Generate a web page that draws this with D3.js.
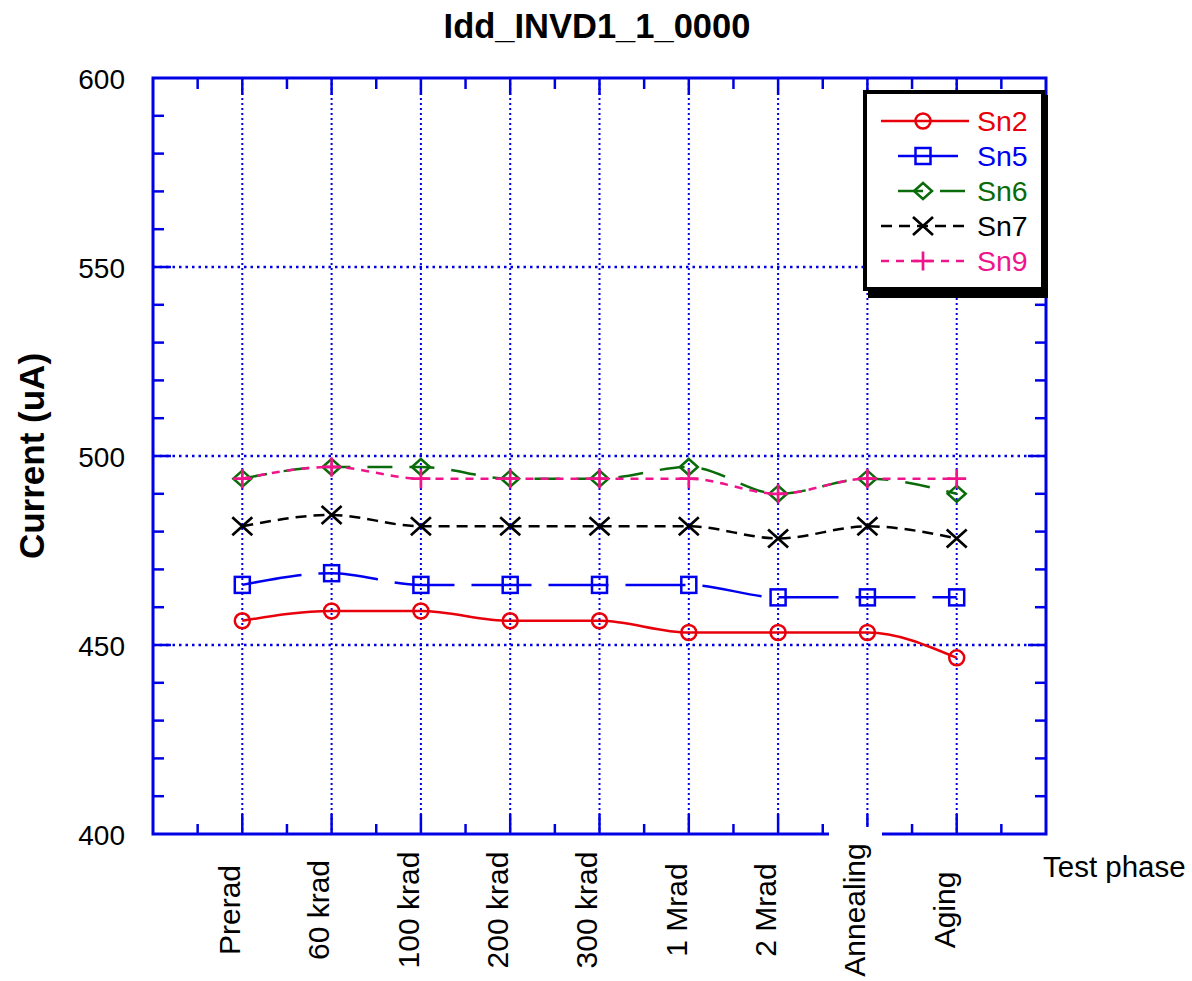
<!DOCTYPE html>
<html>
<head>
<meta charset="utf-8">
<script src="https://cdn.jsdelivr.net/npm/d3@7"></script>
<style>
  html, body { margin: 0; padding: 0; background: #fff; }
  svg { display: block; font-family: "Liberation Sans", Arial, Helvetica, sans-serif; }
</style>
</head>
<body>
<svg id="chart" width="1192" height="981"></svg>
<script>
// ---- data ----
const categories = ["Prerad", "60 krad", "100 krad", "200 krad", "300 krad", "1 Mrad", "2 Mrad", "Annealing", "Aging"];
const sn2 = [456.4, 459.0, 459.0, 456.4, 456.4, 453.3, 453.3, 453.3, 446.6];
const sn5 = [465.9, 469.0, 465.9, 465.9, 465.9, 465.9, 462.6, 462.6, 462.6];
const sn6 = [494.0, 497.1, 497.1, 494.0, 494.0, 497.1, 490.0, 494.0, 490.0];
const sn7 = [481.4, 484.4, 481.4, 481.4, 481.4, 481.4, 478.2, 481.4, 478.2];
const sn9 = [494.0, 497.1, 494.0, 494.0, 494.0, 494.0, 490.0, 494.0, 494.0];
const seriesNames = ["Sn2", "Sn5", "Sn6", "Sn7", "Sn9"];
const yTickValues = [400, 450, 500, 550, 600];
const yMinorStep = 10;

// ---- styles ----
const styles = {
  Sn2: { color: "#e8000b", dash: null, legendOffset: 0, marker: "circle" },
  Sn5: { color: "#0000f0", dash: "60,17", legendOffset: 60, marker: "square" },
  Sn6: { color: "#0a6b0a", dash: "25,17", legendOffset: 25, marker: "diamond" },
  Sn7: { color: "#000000", dash: "11,7", legendOffset: 0, marker: "x" },
  Sn9: { color: "#f0148c", dash: "8,7", legendOffset: 0, marker: "plus" }
};
const seriesData = { Sn2: sn2, Sn5: sn5, Sn6: sn6, Sn7: sn7, Sn9: sn9 };
const axisColor = "#0000e6";

const svg = d3.select("#chart");
const L = 153, R = 1046, T = 78, B = 834;

const x = d3.scaleLinear().domain([0, categories.length + 1]).range([L, R]);
const y = d3.scaleLinear().domain([400, 600]).range([B, T]);

// ---- title ----
svg.append("text").attr("x", 597).attr("y", 38).attr("text-anchor", "middle")
  .attr("font-size", 34.5).attr("font-weight", "bold").text("Idd_INVD1_1_0000");

// ---- grid (dotted) ----
const grid = svg.append("g").attr("stroke", axisColor).attr("fill", "none");
categories.forEach((c, i) => {
  grid.append("line").attr("x1", x(i + 1)).attr("x2", x(i + 1)).attr("y1", T).attr("y2", B)
    .attr("stroke-width", 2).attr("stroke-dasharray", "2,3");
});
yTickValues.filter(v => v > 400 && v < 600).forEach(v => {
  grid.append("line").attr("x1", L).attr("x2", R).attr("y1", y(v)).attr("y2", y(v))
    .attr("stroke-width", 2.5).attr("stroke-dasharray", "2.5,4");
});

// ---- ticks ----
const ticks = svg.append("g").attr("stroke", axisColor).attr("stroke-width", 2.5);
for (let v = 400 + yMinorStep; v < 600; v += yMinorStep) {
  const major = yTickValues.includes(v);
  const len = major ? 18 : 11;
  ticks.append("line").attr("x1", L).attr("x2", L + len).attr("y1", y(v)).attr("y2", y(v));
  ticks.append("line").attr("x1", R).attr("x2", R - len).attr("y1", y(v)).attr("y2", y(v));
}
for (let k = 1; k <= 2 * (categories.length + 1) - 1; k++) {
  const p = k / 2;
  const major = k % 2 === 0;
  ticks.append("line").attr("x1", x(p)).attr("x2", x(p)).attr("y1", T).attr("y2", T + (major ? 17 : 11));
  ticks.append("line").attr("x1", x(p)).attr("x2", x(p)).attr("y1", B).attr("y2", B - (major ? 20 : 10));
}

// ---- frame ----
svg.append("rect").attr("x", L).attr("y", T).attr("width", R - L).attr("height", B - T)
  .attr("fill", "none").attr("stroke", axisColor).attr("stroke-width", 3);

// ---- y tick labels ----
const yAxis = d3.axisLeft(y).tickValues(yTickValues).tickSize(0).tickPadding(28);
const yg = svg.append("g").attr("transform", `translate(${L},0)`).call(yAxis);
yg.select(".domain").remove();
yg.selectAll("text").attr("font-size", 28).attr("fill", "#000")
  .attr("font-family", "'Liberation Sans', Arial, sans-serif").attr("dy", "0.36em");

// ---- y axis title ----
svg.append("text").attr("transform", `translate(44,${(T + B) / 2}) rotate(-90)`)
  .attr("text-anchor", "middle").attr("font-size", 35).attr("font-weight", "bold").text("Current (uA)");

// ---- series ----
const line = d3.line().x((d, i) => x(i + 1)).y(d => y(d)).curve(d3.curveMonotoneX);

function drawMarker(g, type, cx, cy, color) {
  const sw = 2.5;
  if (type === "circle") {
    g.append("circle").attr("cx", cx).attr("cy", cy).attr("r", 7.5)
      .attr("fill", "none").attr("stroke", color).attr("stroke-width", sw);
  } else if (type === "square") {
    g.append("rect").attr("x", cx - 7.5).attr("y", cy - 8).attr("width", 15).attr("height", 16)
      .attr("fill", "none").attr("stroke", color).attr("stroke-width", sw);
  } else if (type === "diamond") {
    g.append("path").attr("d", `M${cx},${cy - 8}L${cx + 9},${cy}L${cx},${cy + 8}L${cx - 9},${cy}Z`)
      .attr("fill", "none").attr("stroke", color).attr("stroke-width", sw);
  } else if (type === "x") {
    g.append("path").attr("d", `M${cx - 10},${cy - 9}L${cx + 10},${cy + 9}M${cx - 10},${cy + 9}L${cx + 10},${cy - 9}`)
      .attr("fill", "none").attr("stroke", color).attr("stroke-width", 2.7);
  } else if (type === "plus") {
    g.append("path").attr("d", `M${cx - 9.5},${cy}L${cx + 9.5},${cy}M${cx},${cy - 9.5}L${cx},${cy + 9.5}`)
      .attr("fill", "none").attr("stroke", color).attr("stroke-width", 2.7);
  }
}

const plotG = svg.append("g");
seriesNames.forEach(name => {
  const st = styles[name];
  const data = seriesData[name];
  const g = plotG.append("g");
  g.append("path").datum(data).attr("d", line).attr("fill", "none")
    .attr("stroke", st.color).attr("stroke-width", 2.5)
    .attr("stroke-dasharray", st.dash);
  data.forEach((v, i) => drawMarker(g, st.marker, x(i + 1), y(v), st.color));
});

// ---- white gap patch near the Annealing label ----
svg.append("rect").attr("x", 829).attr("y", 827).attr("width", 53).attr("height", 14).attr("fill", "#fff");

// ---- x tick labels ----
categories.forEach((c, i) => {
  svg.append("text").attr("transform", `translate(${x(i + 1) - 13},910) rotate(-90)`)
    .attr("text-anchor", "middle").attr("dy", "0.36em").attr("font-size", 30).text(c);
});

// ---- x axis title ----
svg.append("text").attr("x", 1043).attr("y", 877).attr("font-size", 29.5).text("Test phase");

// ---- legend ----
const lg = svg.append("g");
lg.append("rect").attr("x", 868).attr("y", 95).attr("width", 180).attr("height", 203).attr("fill", "#000");
lg.append("rect").attr("x", 865).attr("y", 92).attr("width", 178).attr("height", 197)
  .attr("fill", "#fff").attr("stroke", "#000").attr("stroke-width", 4);
const rowY = [121, 156, 191, 226, 261];
seriesNames.forEach((name, k) => {
  const st = styles[name];
  const ry = rowY[k];
  lg.append("line").attr("x1", 881).attr("x2", 969).attr("y1", ry).attr("y2", ry)
    .attr("stroke", st.color).attr("stroke-width", 2.5)
    .attr("stroke-dasharray", st.dash).attr("stroke-dashoffset", st.legendOffset);
  drawMarker(lg, st.marker, 923, ry, st.color);
  lg.append("text").attr("x", 977).attr("y", ry).attr("dy", "0.36em")
    .attr("font-size", 28.5).attr("fill", st.color).text(name);
});
</script>
</body>
</html>
